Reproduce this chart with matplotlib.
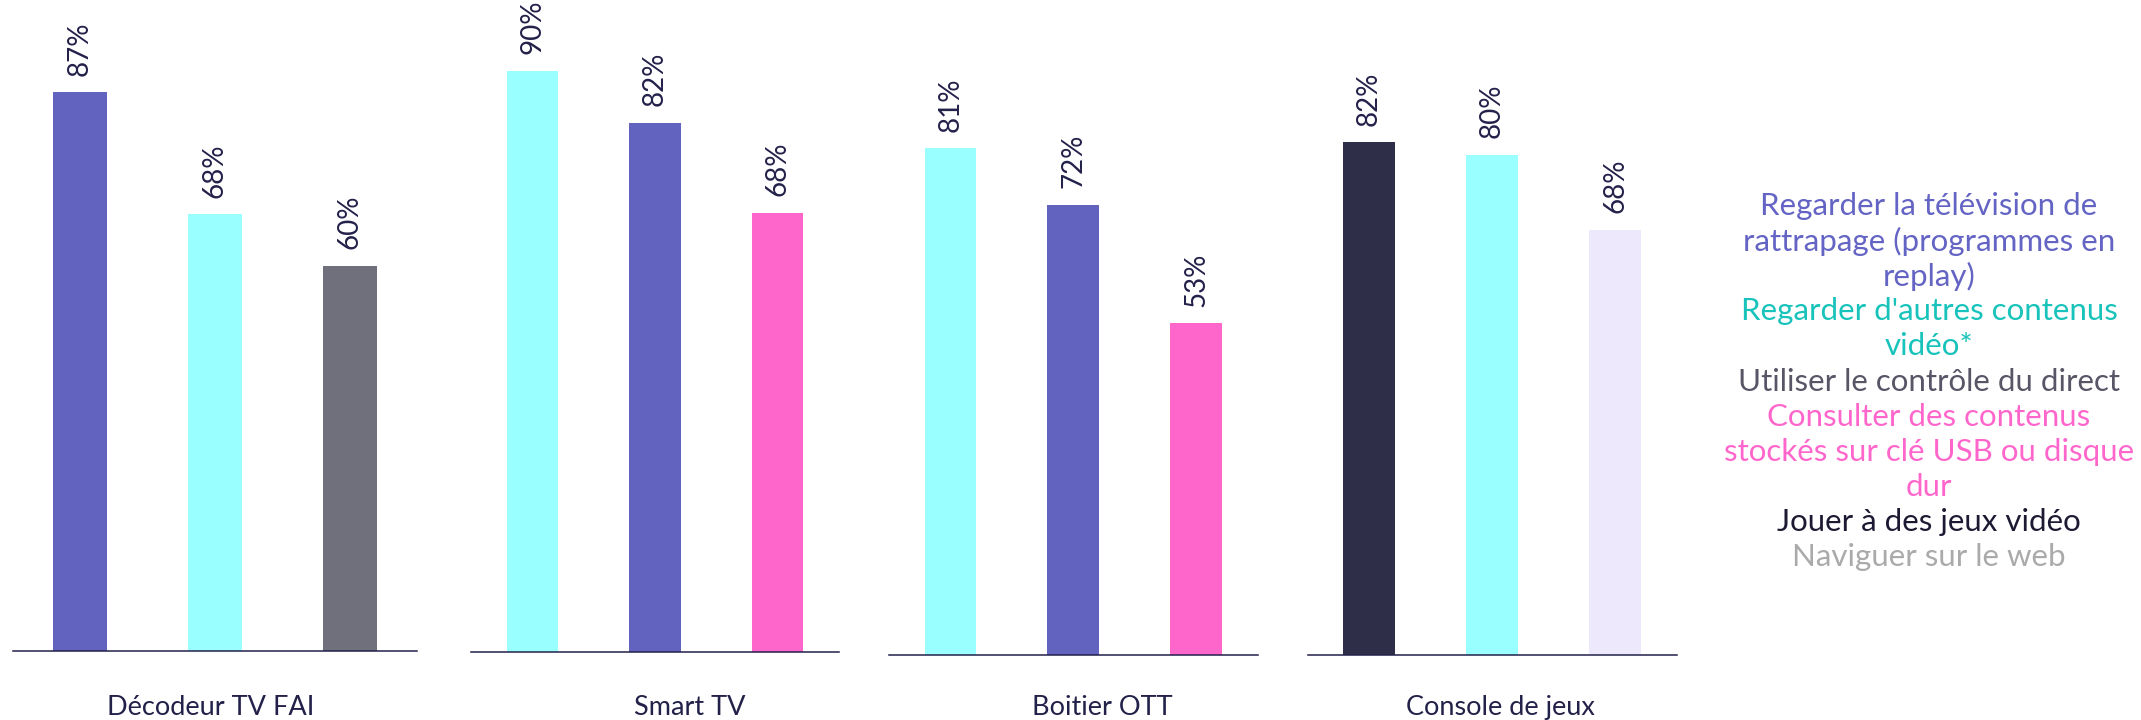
import matplotlib
matplotlib.use("Agg")
import matplotlib.pyplot as plt

plt.rcParams['font.family'] = ['Lato', 'DejaVu Sans']

# usages (legend order) and their colours
usages = [
    "Regarder la télévision de\nrattrapage (programmes en\nreplay)",
    "Regarder d'autres contenus\nvidéo*",
    "Utiliser le contrôle du direct",
    "Consulter des contenus\nstockés sur clé USB ou disque\ndur",
    "Jouer à des jeux vidéo",
    "Naviguer sur le web",
]
bar_colors = ['#6262bf', '#99ffff', '#70707d', '#ff66cc', '#2e2e48', '#ede8fc']
text_colors = ['#6464c4', '#17c3bb', '#575566', '#ff66cc', '#1c1a33', '#aaaaaa']

devices = ["Décodeur TV FAI", "Smart TV", "Boitier OTT", "Console de jeux"]
# top 3 usages per device (index into usages) and percentages
top_usages = [[0, 1, 2], [1, 0, 3], [1, 0, 3], [4, 1, 5]]
top_values = [[87, 68, 60], [90, 82, 68], [81, 72, 53], [82, 80, 68]]

navy = '#23214a'
W, H = 2141, 720
fig = plt.figure(figsize=(W / 100, H / 100), dpi=100)

# panel geometry in pixels: left, right, baseline, px per percent
panels = [(12.6, 417, 651, 6.42), (471, 839, 652.4, 6.46),
          (889, 1257.6, 654.7, 6.25), (1307.5, 1676.6, 654.7, 6.25)]
bar_w = [0.4, 0.42, 0.42, 0.42]
label_x = [0.49, 0.595, 0.578, 0.522]

for i, dev in enumerate(devices):
    left, right, base, scale = panels[i]
    ax = fig.add_axes([left / W, 1 - base / H, (right - left) / W, base / H])
    vals = top_values[i]
    cols = [bar_colors[k] for k in top_usages[i]]
    bars = ax.bar(range(3), vals, width=bar_w[i], color=cols)
    ax.set_xlim(-0.5, 2.5)
    ax.set_ylim(0, base / scale)
    for b, v in zip(bars, vals):
        ax.annotate(f"{v}%", (b.get_x() + b.get_width() / 2, v),
                    xytext=(0, 12), textcoords='offset points',
                    rotation=90, ha='center', va='bottom',
                    fontsize=20, color=navy)
    for s in ['top', 'left', 'right']:
        ax.spines[s].set_visible(False)
    ax.spines['bottom'].set_color(navy)
    ax.spines['bottom'].set_linewidth(1.1)
    ax.set_xticks([])
    ax.set_yticks([])
    ax.patch.set_alpha(0)
    fig.text((left + label_x[i] * (right - left)) / W, 1 - 715 / H, dev,
             ha='center', va='baseline', fontsize=19.5, color=navy)

# legend as coloured text lines
y = 206
for lab, c in zip(usages, text_colors):
    for line in lab.split("\n"):
        fig.text(1929 / W, 1 - y / H, line, ha='center', va='center',
                 fontsize=22.5, color=c)
        y += 35.1

fig.savefig("out.png", dpi=100)
